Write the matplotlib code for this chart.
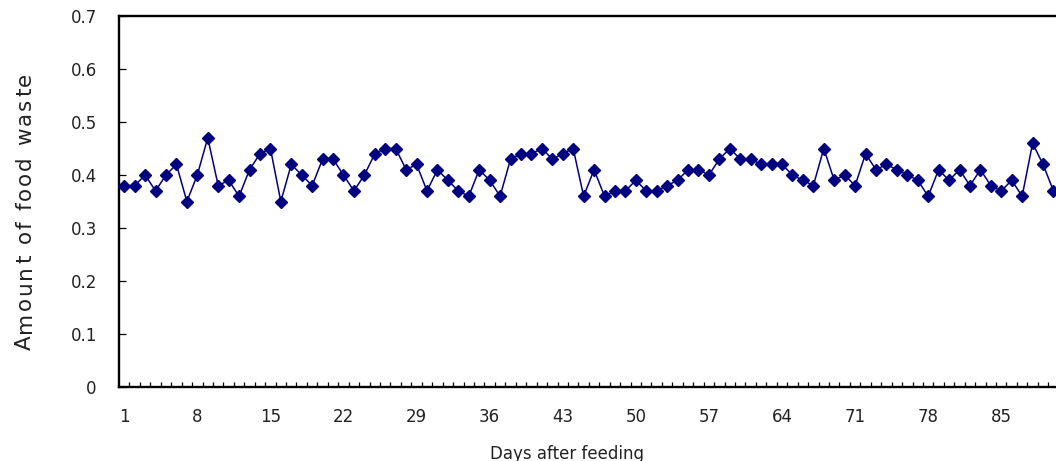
import matplotlib
matplotlib.use("Agg")
import matplotlib.pyplot as plt
from matplotlib.font_manager import FontProperties
import numpy as np

days = list(range(1, 91))
waste = [0.38, 0.38, 0.40, 0.37, 0.40, 0.42, 0.35, 0.40, 0.47, 0.38,
         0.39, 0.36, 0.41, 0.44, 0.45, 0.35, 0.42, 0.40, 0.38, 0.43,
         0.43, 0.40, 0.37, 0.40, 0.44, 0.45, 0.45, 0.41, 0.42, 0.37,
         0.41, 0.39, 0.37, 0.36, 0.41, 0.39, 0.36, 0.43, 0.44, 0.44,
         0.45, 0.43, 0.44, 0.45, 0.36, 0.41, 0.36, 0.37, 0.37, 0.39,
         0.37, 0.37, 0.38, 0.39, 0.41, 0.41, 0.40, 0.43, 0.45, 0.43,
         0.43, 0.42, 0.42, 0.42, 0.40, 0.39, 0.38, 0.45, 0.39, 0.40,
         0.38, 0.44, 0.41, 0.42, 0.41, 0.40, 0.39, 0.36, 0.41, 0.39,
         0.41, 0.38, 0.41, 0.38, 0.37, 0.39, 0.36, 0.46, 0.42, 0.37]
x_tick_labels = [1, 8, 15, 22, 29, 36, 43, 50, 57, 64, 71, 78, 85]
y_ticks = [0, 0.1, 0.2, 0.3, 0.4, 0.5, 0.6, 0.7]
y_tick_labels = ["0", "0.1", "0.2", "0.3", "0.4", "0.5", "0.6", "0.7"]
x_label = "Days after feeding"
y_label = "Amount of food waste"

W, H = 1056, 461
fig = plt.figure(figsize=(W / 100, H / 100), dpi=100)
plt.rcParams['font.family'] = ['DejaVu Sans']

left_px, right_px, top_px, bottom_px = 119, 1058.7, 16, 387
ax = fig.add_axes([left_px / W, 1 - bottom_px / H,
                   (right_px - left_px) / W, (bottom_px - top_px) / H])

ax.plot(days, waste, color='#000080', linewidth=1.1, marker='D',
        markersize=6, markerfacecolor='#000080', markeredgecolor='#000080',
        clip_on=False, zorder=3)

ax.set_xlim(0.5, 90.5)
ax.set_ylim(0, 0.7)

for side in ['left', 'bottom', 'top']:
    ax.spines[side].set_linewidth(1.7)
    ax.spines[side].set_color('black')
ax.spines['right'].set_visible(False)

ax.set_yticks(y_ticks)
ax.set_yticklabels(y_tick_labels)
ax.tick_params(axis='y', direction='in', length=5, width=0.9, pad=16,
               labelsize=12, labelcolor='#222222', colors='black')

ax.set_xticks(x_tick_labels)
ax.set_xticklabels([str(v) for v in x_tick_labels])
ax.set_xticks(np.arange(1.5, 91, 1.0), minor=True)
ax.tick_params(axis='x', which='major', length=0, pad=15, labelsize=12,
               labelcolor='#222222')
ax.tick_params(axis='x', which='minor', direction='in', length=3.6, width=0.9)
ax.tick_params(axis='y', which='minor', length=0)

fig.text(567 / W, 1 - 459 / H, x_label, ha='center', va='baseline',
         fontsize=12, color='#222222')

# spaced vertical y label
fig.canvas.draw()
renderer = fig.canvas.get_renderer()
prop = FontProperties(family='DejaVu Sans', size=15.5)

def width_of(t):
    w, h, d = renderer.get_text_width_height_descent(t, prop, ismath=False)
    return w

base = width_of("xx")
adv = [width_of("x" + y_label[:i] + "x") - base for i in range(len(y_label) + 1)]
total = 277.0
extra = max(0.0, (total - adv[-1]) / (len(y_label) - 1))
y0 = H - 350
for i, c in enumerate(y_label):
    if c == ' ':
        continue
    ypos = y0 + adv[i] + i * extra
    fig.text(31 / W, ypos / H, c, rotation=90, rotation_mode='anchor',
             ha='left', va='baseline', fontproperties=prop, color='#222222')

fig.savefig("out.png", dpi=100)
